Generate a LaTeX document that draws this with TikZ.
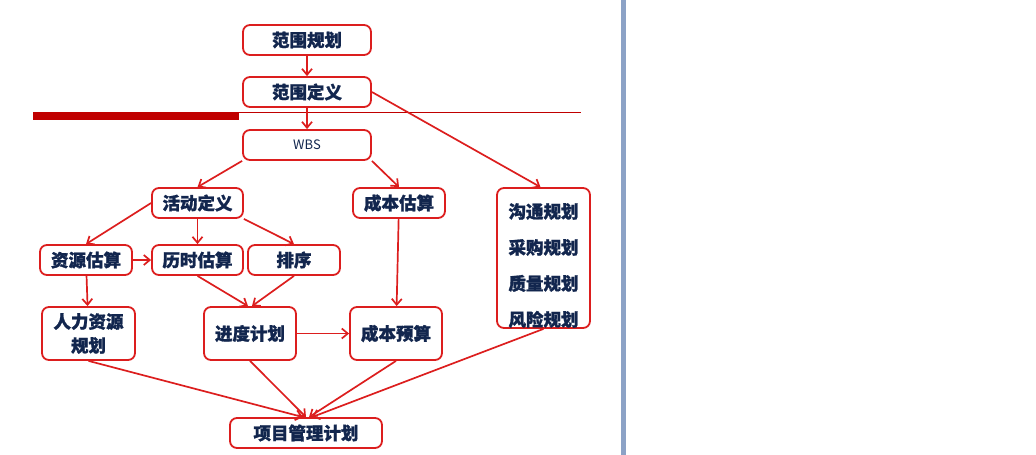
\documentclass[tikz,border=0pt]{standalone}
\usepackage{fontspec}
\setmainfont{Noto Sans CJK SC}[BoldFeatures={FakeBold=1.2}]
\usetikzlibrary{arrows.meta}
\definecolor{boxred}{RGB}{220,30,30}
\definecolor{txtblue}{RGB}{18,38,78}
\definecolor{barred}{RGB}{192,0,0}
\definecolor{edgegray}{RGB}{140,162,198}
\tikzset{
  box/.style={draw=boxred, line width=1.8pt, rounded corners=7pt, fill=white,
    text=txtblue, font=\bfseries\fontsize{17.5}{20}\selectfont,
    minimum width=92pt, minimum height=30pt, inner sep=2pt},
  flow/.style={draw=boxred, line width=1.7pt, -{Straight Barb[length=6pt,width=10pt]}}
}
\begin{document}
\begin{tikzpicture}[x=1pt,y=-1pt]
\useasboundingbox (0,0) rectangle (1036,455);
\fill [edgegray] (621,0) rectangle (626,455);
\fill [barred] (33,112) rectangle (239,120);
\draw [barred, line width=0.9pt] (239,112.5) -- (581,112.5);

\node [box, minimum width=128pt] (scopeplan) at (307,40) {范围规划};
\node [box, minimum width=128pt] (scopedef) at (307,92) {范围定义};
\node [box, minimum width=128pt, font=\fontsize{13}{15}\selectfont] (wbs) at (307,145) {WBS};
\node [box, minimum width=91pt] (actdef) at (197.5,203) {活动定义};
\node [box] (costest) at (399,203) {成本估算};
\node [box, minimum width=93pt, minimum height=140pt, inner sep=0pt, align=center,
  font=\bfseries\fontsize{17.5}{36}\selectfont] (plans) at (543.5,258)
  {\rule{0pt}{30pt}沟通规划\\采购规划\\质量规划\\风险规划};
\node [box] (resest) at (86,260) {资源估算};
\node [box, minimum width=91pt] (durest) at (197.5,260) {历时估算};
\node [box] (seq) at (294,260) {排序};
\node [box, minimum width=93pt, minimum height=53pt, align=center,
  font=\bfseries\fontsize{17.5}{24}\selectfont] (hr) at (88.5,333.5) {人力资源\\规划};
\node [box, minimum height=53pt] (sched) at (250,333.5) {进度计划};
\node [box, minimum height=53pt] (budget) at (396,333.5) {成本预算};
\node [box, minimum width=152pt] (pmplan) at (306,433) {项目管理计划};

\draw [flow] (scopeplan) -- (scopedef);
\draw [flow] (scopedef) -- (wbs);
\draw [flow] (scopedef.east) -- ([xshift=-3pt]plans.north);
\draw [flow] (wbs.south west) -- (actdef.north);
\draw [flow] (wbs.south east) -- (costest.north);
\draw [flow] (actdef.west) -- (resest.north);
\draw [flow] (actdef) -- (durest);
\draw [flow] (actdef.south east) -- (seq.north);
\draw [flow] (resest) -- (durest);
\draw [flow] (resest) -- (hr);
\draw [flow] (durest.south) -- ([xshift=-2pt]sched.north);
\draw [flow] (seq.south) -- ([xshift=2pt]sched.north);
\draw [flow] (costest) -- (budget);
\draw [flow] (sched) -- (budget);
\draw [flow] (hr.south) -- ([xshift=-3pt]pmplan.north);
\draw [flow] (sched.south) -- (pmplan.north);
\draw [flow] (budget.south) -- ([xshift=3pt]pmplan.north);
\draw [flow] (plans.south) -- ([xshift=6pt]pmplan.north);
\end{tikzpicture}
\end{document}
